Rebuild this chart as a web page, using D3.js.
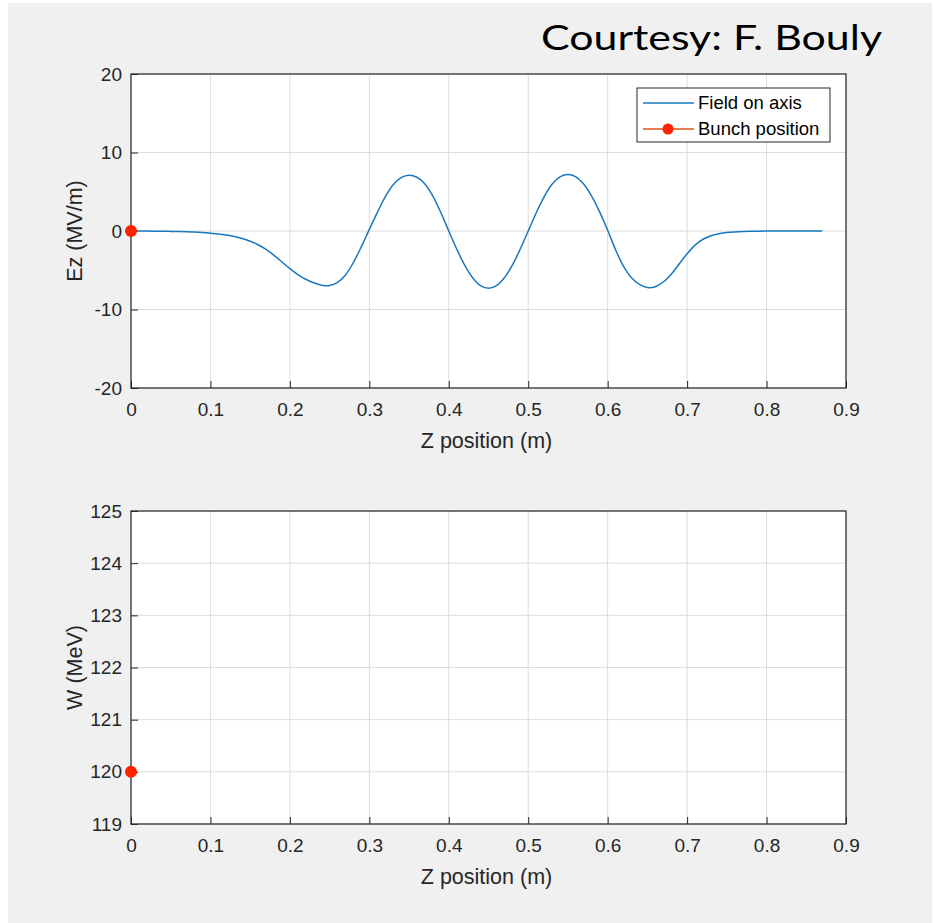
<!DOCTYPE html>
<html>
<head>
<meta charset="utf-8">
<script src="https://cdn.jsdelivr.net/npm/d3@7"></script>
<style>
  body { margin: 0; background: #fff; }
  text { font-family: "Liberation Sans", Arial, sans-serif; }
</style>
</head>
<body>
<div id="chart"></div>
<script>
// field.js

const W = 935, H = 923;

const zStep = 0.01;
const fieldEz = [
  0, 0, -0.01, -0.02, -0.03, -0.05, -0.07, -0.1, -0.14, -0.2,
  -0.28, -0.38, -0.52, -0.7, -0.95, -1.3, -1.75, -2.35, -3.1, -3.95,
  -4.8, -5.55, -6.15, -6.6, -6.9, -6.95, -6.55, -5.6, -4.0, -2.0,
  0.2, 2.35, 4.35, 5.9, 6.8, 7.1, 6.85, 6.0, 4.45, 2.35,
  0.0, -2.3, -4.35, -5.95, -6.95, -7.3, -6.95, -5.95, -4.35, -2.3,
  0.0, 2.3, 4.35, 5.95, 6.9, 7.2, 6.9, 5.95, 4.4, 2.4,
  0.1, -2.4, -4.5, -5.95, -6.8, -7.2, -7.1, -6.5, -5.5, -4.2,
  -2.9, -1.8, -1.05, -0.6, -0.35, -0.2, -0.12, -0.07, -0.04, -0.02,
  -0.01, 0, 0, 0, 0, 0, 0, 0
];

// Bunch position
const bunchZ = [0];
const bunchEz = [0];
const bunchW = [120];

// Ticks
const xTicks = [0, 0.1, 0.2, 0.3, 0.4, 0.5, 0.6, 0.7, 0.8, 0.9];
const ezTicks = [-20, -10, 0, 10, 20];
const wTicks = [119, 120, 121, 122, 123, 124, 125];

const legendLabels = ["Field on axis", "Bunch position"];

const blue = "#1a78be";
const orange = "#D95319";
const red = "#ff2200";
const axisCol = "#262626";

const svg = d3.select("#chart").append("svg")
  .attr("width", W)
  .attr("height", H);

// figure background
svg.append("rect")
  .attr("x", 8).attr("y", 3)
  .attr("width", 924).attr("height", H - 3)
  .attr("fill", "#f0f0f0");

// Courtesy note
svg.append("text")
  .attr("x", 541)
  .attr("y", 50)
  .attr("textLength", 341)
  .attr("lengthAdjust", "spacingAndGlyphs")
  .style("font-family", "Lato, 'Open Sans', sans-serif")
  .attr("font-size", 35)
  .attr("fill", "#000")
  .text("Courtesy: F. Bouly");

const x0 = 131, x1 = 846;

function drawAxes(top, bottom, yDomain, yTicks, yLabel) {
  const x = d3.scaleLinear().domain([0, 0.9]).range([x0, x1]);
  const y = d3.scaleLinear().domain(yDomain).range([bottom, top]);

  const g = svg.append("g");

  g.append("rect")
    .attr("x", x0).attr("y", top)
    .attr("width", x1 - x0).attr("height", bottom - top)
    .attr("fill", "#fff");

  // grid
  g.append("g")
    .selectAll("line.gx")
    .data(xTicks)
    .join("line")
    .attr("x1", d => x(d)).attr("x2", d => x(d))
    .attr("y1", top).attr("y2", bottom)
    .attr("stroke", "#dcdcdc");

  g.append("g")
    .selectAll("line.gy")
    .data(yTicks)
    .join("line")
    .attr("x1", x0).attr("x2", x1)
    .attr("y1", d => y(d)).attr("y2", d => y(d))
    .attr("stroke", "#dcdcdc");

  // axes with inward ticks
  const xAx = g.append("g")
    .attr("transform", `translate(0,${bottom})`)
    .call(d3.axisBottom(x).tickValues(xTicks).tickSize(-7).tickPadding(15)
      .tickFormat(d => d === 0 ? "0" : d3.format(".1f")(d)));
  xAx.select(".domain").remove();

  const yAx = g.append("g")
    .attr("transform", `translate(${x0},0)`)
    .call(d3.axisLeft(y).tickValues(yTicks).tickSize(-7).tickPadding(9)
      .tickFormat(d => String(d)));
  yAx.select(".domain").remove();

  g.selectAll(".tick line").attr("stroke", axisCol);
  g.selectAll(".tick text")
    .attr("fill", axisCol)
    .attr("font-size", 19)
    .style("font-family", "'Liberation Sans', Arial, sans-serif");
  xAx.selectAll(".tick text").attr("dy", "0.71em");

  // box
  g.append("rect")
    .attr("x", x0).attr("y", top)
    .attr("width", x1 - x0).attr("height", bottom - top)
    .attr("fill", "none")
    .attr("stroke", axisCol)
    .attr("stroke-width", 1.2);

  // labels
  g.append("text")
    .attr("x", (x0 + x1) / 2 - 2)
    .attr("y", bottom + 60)
    .attr("text-anchor", "middle")
    .attr("font-size", 21.5)
    .attr("fill", axisCol)
    .text("Z position (m)");

  g.append("text")
    .attr("transform", `translate(82,${(top + bottom) / 2}) rotate(-90)`)
    .attr("text-anchor", "middle")
    .attr("font-size", 21.5)
    .attr("fill", axisCol)
    .text(yLabel);

  return { x, y, g };
}

// top panel: field
const fieldPanel = drawAxes(74, 388, [-20, 20], ezTicks, "Ez (MV/m)");

const line = d3.line()
  .x((d, i) => fieldPanel.x(i * zStep))
  .y(d => fieldPanel.y(d))
  .curve(d3.curveCatmullRom);

fieldPanel.g.append("path")
  .datum(fieldEz)
  .attr("d", line)
  .attr("fill", "none")
  .attr("stroke", blue)
  .attr("stroke-width", 1.5);

fieldPanel.g.selectAll("circle.bunch")
  .data(bunchZ)
  .join("circle")
  .attr("cx", d => fieldPanel.x(d))
  .attr("cy", (d, i) => fieldPanel.y(bunchEz[i]))
  .attr("r", 6)
  .attr("fill", red);

// legend
const lg = fieldPanel.g.append("g").attr("transform", "translate(637,88)");
lg.append("rect")
  .attr("width", 193).attr("height", 54)
  .attr("fill", "#fff")
  .attr("stroke", axisCol)
  .attr("stroke-width", 1);

legendLabels.forEach((lab, i) => {
  const yy = 15 + i * 26;
  lg.append("line")
    .attr("x1", 6).attr("x2", 57)
    .attr("y1", yy).attr("y2", yy)
    .attr("stroke", i === 0 ? blue : orange)
    .attr("stroke-width", 1.5);
  if (i === 1) {
    lg.append("circle")
      .attr("cx", 31).attr("cy", yy)
      .attr("r", 5.5)
      .attr("fill", red);
  }
  lg.append("text")
    .attr("x", 61)
    .attr("y", yy + 6)
    .attr("font-size", 18.5)
    .attr("fill", "#000")
    .text(lab);
});

// bottom panel: energy
const energyPanel = drawAxes(511, 824, [119, 125], wTicks, "W (MeV)");

energyPanel.g.selectAll("circle.bunch")
  .data(bunchZ)
  .join("circle")
  .attr("cx", d => energyPanel.x(d))
  .attr("cy", (d, i) => energyPanel.y(bunchW[i]))
  .attr("r", 6)
  .attr("fill", red);
</script>
</body>
</html>
